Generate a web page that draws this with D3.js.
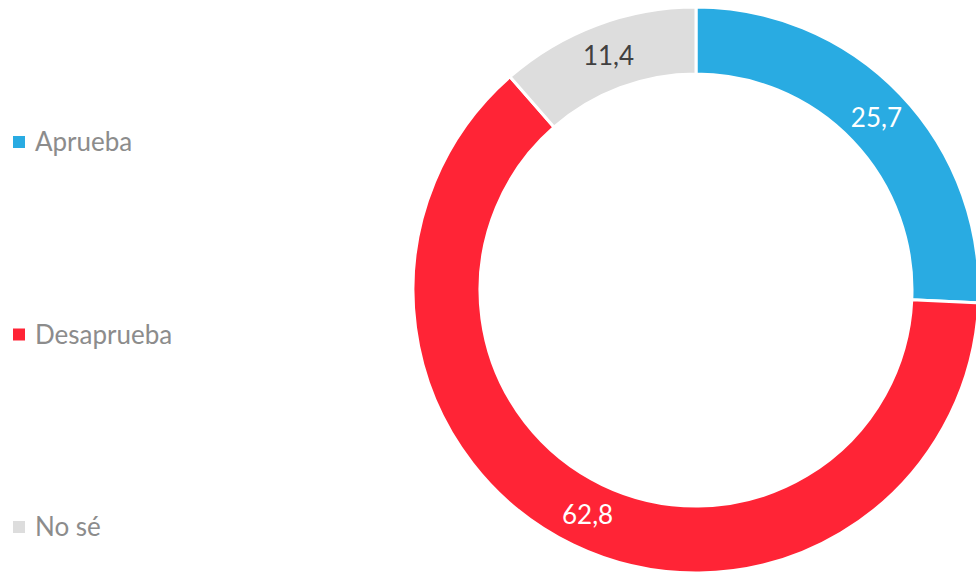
<!DOCTYPE html>
<html>
<head>
<meta charset="utf-8">
<script src="https://cdn.jsdelivr.net/npm/d3@7/dist/d3.min.js"></script>
<style>
  html, body { margin: 0; padding: 0; background: #fff; }
  svg { display: block; }
  text { font-family: Lato, "Open Sans", sans-serif; }
</style>
</head>
<body>
<svg id="chart" width="976" height="575"></svg>
<script>
const categories = ["Aprueba", "Desaprueba", "No sé"];
const values = [25.7, 62.8, 11.4];
const labels = ["25,7", "62,8", "11,4"];
const colors = ["#29ABE2", "#FF2436", "#DDDDDD"];
const labelColors = ["#ffffff", "#ffffff", "#404040"];

const svg = d3.select("#chart");
const cx = 696, cy = 290, outerR = 283, innerR = 216;

const pie = d3.pie().sort(null).value(d => d)(values);
const arc = d3.arc().innerRadius(innerR).outerRadius(outerR);
const labelArc = d3.arc().innerRadius((innerR + outerR) / 2).outerRadius((innerR + outerR) / 2);

const g = svg.append("g").attr("transform", `translate(${cx},${cy})`);

g.selectAll("path.slice")
  .data(pie)
  .join("path")
  .attr("class", "slice")
  .attr("d", arc)
  .attr("fill", (d, i) => colors[i])
  .attr("stroke", "#fff")
  .attr("stroke-width", 3);

g.selectAll("text.val")
  .data(pie)
  .join("text")
  .attr("class", "val")
  .attr("transform", d => `translate(${labelArc.centroid(d)})`)
  .attr("text-anchor", "middle")
  .attr("dy", "0.35em")
  .attr("font-size", 26)
  .attr("fill", (d, i) => labelColors[i])
  .text((d, i) => labels[i]);

// Legend down the left side
const legendY = d3.scalePoint().domain(categories).range([142, 527]);
const legend = svg.append("g");
const item = legend.selectAll("g.item")
  .data(categories)
  .join("g")
  .attr("class", "item")
  .attr("transform", d => `translate(13,${legendY(d)})`);

item.append("rect")
  .attr("x", 0).attr("y", -6)
  .attr("width", 12).attr("height", 12)
  .attr("fill", (d, i) => colors[i]);

item.append("text")
  .attr("x", 22)
  .attr("dy", "0.35em")
  .attr("font-size", 26)
  .attr("fill", "#8C8C8C")
  .text(d => d);
</script>
</body>
</html>
